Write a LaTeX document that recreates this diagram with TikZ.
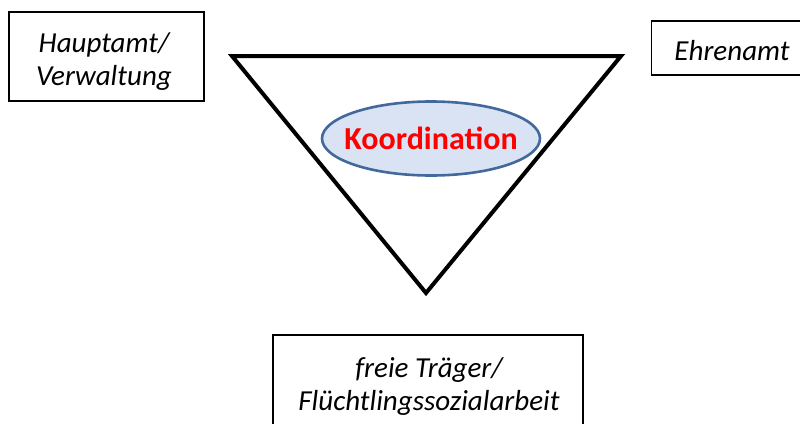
\documentclass[tikz,border=0pt]{standalone}
\usepackage{fontspec}
\setmainfont{Carlito}
\usetikzlibrary{shapes.geometric}
\definecolor{ellfill}{HTML}{DAE3F3}
\definecolor{elldraw}{HTML}{41699C}
\definecolor{kred}{HTML}{FF0000}
\tikzset{
  rolebox/.style={draw=black, line width=1.4pt, inner sep=0pt},
  roletext/.style={align=center, inner sep=0pt,
    font=\fontsize{29}{33}\selectfont\itshape},
}
\begin{document}
\begin{tikzpicture}[x=1pt,y=-1pt]
\useasboundingbox (0,0) rectangle (800,423);
% triangle
\coordinate (tl) at (232,56);
\coordinate (tr) at (621,56);
\coordinate (tb) at (426,293);
\draw[line width=4pt, line join=miter] (tl) -- (tr) -- (tb) -- cycle;
% ellipse
\node[ellipse, draw=elldraw, fill=ellfill, line width=2.6pt,
  minimum width=218pt, minimum height=74pt, inner sep=0pt,
  text=kred, font=\fontsize{32}{32}\selectfont\bfseries] (koord) at (431,138.5) {\makebox[0pt]{Koordination}};
% boxes
\node[rolebox, minimum width=195pt, minimum height=89pt] (haupt) at (106.5,56.5) {};
\node[roletext] (hauptT) at (104,61.5) {Hauptamt/\\Verwaltung};
\node[rolebox, minimum width=159pt, minimum height=54pt] (ehren) at (731,48) {};
\node[roletext] (ehrenT) at (732,51) {Ehrenamt};
\node[rolebox, minimum width=310pt, minimum height=110pt] (freie) at (428,390) {};
\node[roletext] (freieT) at (429,386.5) {freie Träger/\\Flüchtlingssozialarbeit};
\end{tikzpicture}
\end{document}
